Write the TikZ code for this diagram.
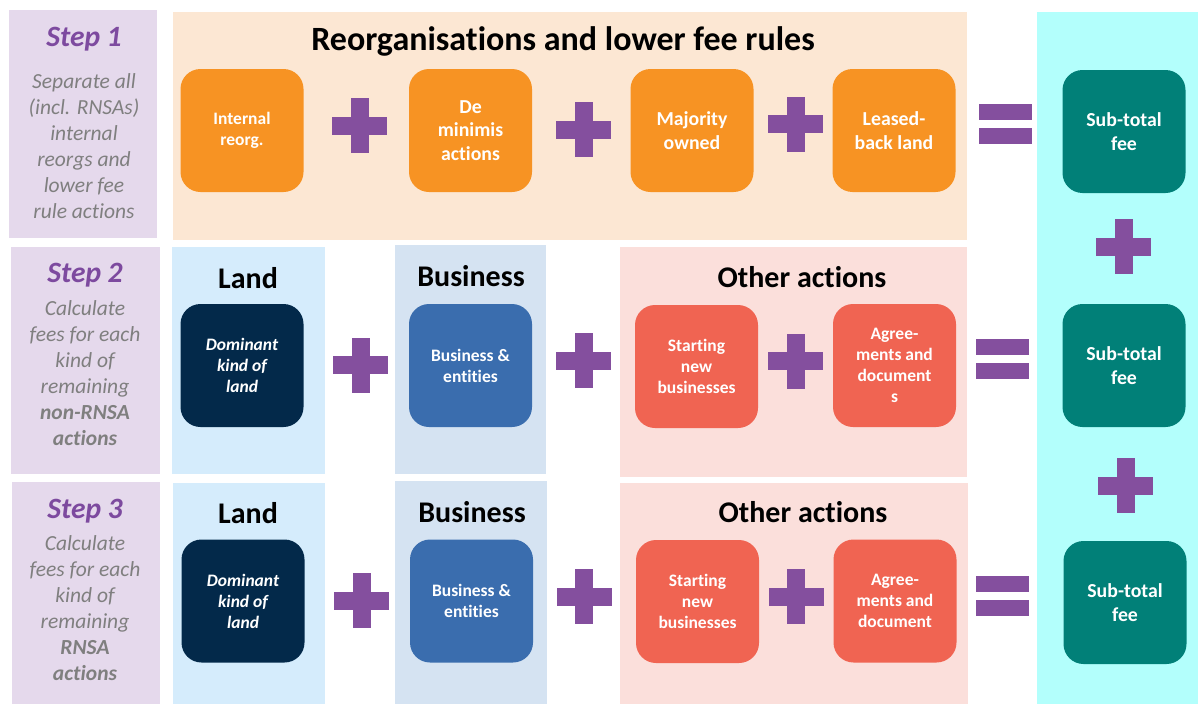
\documentclass[tikz,border=0pt]{standalone}
\usepackage{fontspec}
\setmainfont[Ligatures=NoCommon]{Carlito}
\definecolor{stepbg}{HTML}{E5D9EC}
\definecolor{steppurple}{HTML}{7D4A9F}
\definecolor{graytxt}{HTML}{7F7F7F}
\definecolor{orangebg}{HTML}{FCE7D3}
\definecolor{orangebox}{HTML}{F79323}
\definecolor{landbg}{HTML}{D5ECFC}
\definecolor{darkbox}{HTML}{03294A}
\definecolor{busbg}{HTML}{D5E3F2}
\definecolor{busbox}{HTML}{3A6DAE}
\definecolor{otherbg}{HTML}{FBDFDB}
\definecolor{redbox}{HTML}{F06452}
\definecolor{tealbg}{HTML}{B3FFFC}
\definecolor{tealbox}{HTML}{018078}
\definecolor{plusc}{HTML}{844F9E}
\begin{document}
\begin{tikzpicture}[x=1pt,y=-1pt,
  box/.style={fill=#1, rounded corners=20pt, minimum width=123pt, minimum height=123pt,
    inner sep=2pt, text=white, align=center, font=\bfseries\fontsize{17.5}{21}\selectfont},
  bigtxt/.style={font=\bfseries\fontsize{19.8}{23.5}\selectfont},
  steptitle/.style={text=steppurple, font=\bfseries\itshape\fontsize{29.5}{34}\selectfont},
  stepdesc/.style={text=graytxt, align=center, font=\itshape\fontsize{21.5}{26}\selectfont},
  header/.style={text=black, font=\bfseries\fontsize{30}{34}\selectfont},
  plussign/.pic={\fill[plusc] (-27.5,-9) rectangle (27.5,9); \fill[plusc] (-9,-27.5) rectangle (9,27.5);},
  eqsign/.pic={\fill[plusc] (-26.5,-20) rectangle (26.5,-4); \fill[plusc] (-26.5,4) rectangle (26.5,20);}
]
\useasboundingbox (0,0) rectangle (1198,704);
\fill[white] (0,0) rectangle (1198,704);
% panels
\fill[stepbg] (9,10) rectangle (157,238);
\fill[stepbg] (11,247) rectangle (160,474);
\fill[stepbg] (12,482) rectangle (160,704);
\fill[orangebg] (173,12) rectangle (967,240);
\fill[landbg] (172,247) rectangle (325,474);
\fill[landbg] (173,483) rectangle (325,704);
\fill[busbg] (395,245) rectangle (546,474);
\fill[busbg] (395,481) rectangle (547,704);
\fill[otherbg] (620,247) rectangle (967,477);
\fill[otherbg] (620,483) rectangle (968,704);
\fill[tealbg] (1037,12) rectangle (1198,704);
% step texts
\node[steptitle] (s1t) at (84,39) {Step 1};
\node[stepdesc] (s1d) at (84,146) {Separate all\\(incl. RNSAs)\\internal\\reorgs and\\lower fee\\rule actions};
\node[steptitle] (s2t) at (85,275) {Step 2};
\node[stepdesc] (s2d) at (85,373) {Calculate\\fees for each\\kind of\\remaining\\\textbf{non-RNSA}\\\textbf{actions}};
\node[steptitle] (s3t) at (85,511) {Step 3};
\node[stepdesc] (s3d) at (85,608) {Calculate\\fees for each\\kind of\\remaining\\\textbf{RNSA}\\\textbf{actions}};
% headers
\node[header, font=\bfseries\fontsize{34}{38}\selectfont] (h1) at (563,41) {Reorganisations and lower fee rules};
\node[header] (hl2) at (248,278) {Land};
\node[header] (hb2) at (471,276) {Business};
\node[header] (ho2) at (802,277) {Other actions};
\node[header] (hl3) at (248,513) {Land};
\node[header] (hb3) at (472,512) {Business};
\node[header] (ho3) at (803,512) {Other actions};
% row 1
\node[box=orangebox] (r1a) at (242,130.5) {Internal\\reorg.};
\node[box=orangebox, bigtxt] (r1b) at (470.5,130.5) {De\\minimis\\actions};
\node[box=orangebox, bigtxt] (r1c) at (692,130.5) {Majority\\owned};
\node[box=orangebox, bigtxt] (r1d) at (894,130.5) {Leased-\\back land};
\node[box=tealbox, bigtxt] (r1s) at (1124,131.5) {Sub-total\\fee};
\pic at (359.5,125.5) {plussign};
\pic at (583.5,129.5) {plussign};
\pic at (795.5,124) {plussign};
\pic at (1005.5,124) {eqsign};
% row 2
\node[box=darkbox, font=\bfseries\itshape\fontsize{17.5}{21}\selectfont] (r2a) at (242,365.5) {Dominant\\kind of\\land};
\node[box=busbox] (r2b) at (470.5,365.5) {Business \&\\entities};
\node[box=redbox] (r2c) at (696.5,366.5) {Starting\\new\\businesses};
\node[box=redbox] (r2d) at (894.5,365.5) {Agree-\\ments and\\document\\s};
\node[box=tealbox, bigtxt] (r2s) at (1124,365.5) {Sub-total\\fee};
\pic at (360.5,365) {plussign};
\pic at (583.5,360.5) {plussign};
\pic at (795.5,361) {plussign};
\pic at (1002.5,359) {eqsign};
% row 3
\node[box=darkbox, font=\bfseries\itshape\fontsize{17.5}{21}\selectfont] (r3a) at (243,601) {Dominant\\kind of\\land};
\node[box=busbox] (r3b) at (471.5,601) {Business \&\\entities};
\node[box=redbox] (r3c) at (697.5,601.5) {Starting\\new\\businesses};
\node[box=redbox] (r3d) at (895,601) {Agree-\\ments and\\document};
\node[box=tealbox, bigtxt] (r3s) at (1125,602.5) {Sub-total\\fee};
\pic at (361.5,600.5) {plussign};
\pic at (584,596.5) {plussign};
\pic at (796,596.5) {plussign};
\pic at (1002.5,596) {eqsign};
% teal column pluses
\pic at (1123.5,246.5) {plussign};
\pic at (1125.5,485.5) {plussign};
\end{tikzpicture}
\end{document}
